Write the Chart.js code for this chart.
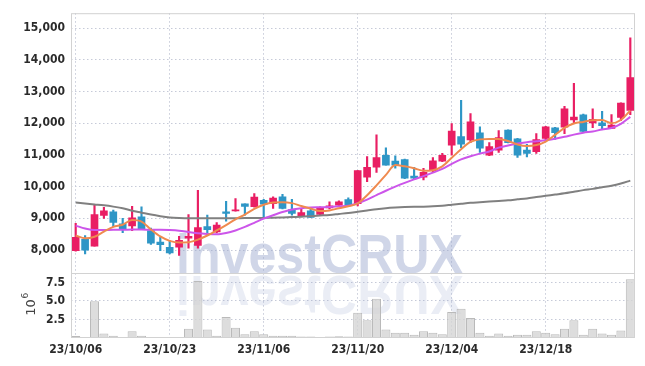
<!DOCTYPE html>
<html lang="ko">
<head>
<meta charset="UTF-8">
<title>Price chart</title>
<script src="https://cdn.jsdelivr.net/npm/chart.js"></script>
<style>
  html, body { margin: 0; padding: 0; background: #fff; }
  #wrap { width: 645px; height: 366px; position: relative; }
</style>
</head>
<body>
<div id="wrap"><canvas id="chart"></canvas></div>
<script>
const dates = [
  '23/10/06','23/10/10','23/10/11','23/10/12','23/10/13','23/10/16','23/10/17','23/10/18','23/10/19','23/10/20',
  '23/10/23','23/10/24','23/10/25','23/10/26','23/10/27','23/10/30','23/10/31','23/11/01','23/11/02','23/11/03',
  '23/11/06','23/11/07','23/11/08','23/11/09','23/11/10','23/11/13','23/11/14','23/11/15','23/11/16','23/11/17',
  '23/11/20','23/11/21','23/11/22','23/11/23','23/11/24','23/11/27','23/11/28','23/11/29','23/11/30','23/12/01',
  '23/12/04','23/12/05','23/12/06','23/12/07','23/12/08','23/12/11','23/12/12','23/12/13','23/12/14','23/12/15',
  '23/12/18','23/12/19','23/12/20','23/12/21','23/12/22','23/12/26','23/12/27','23/12/28','24/01/02','24/01/03'
];
const open = [
  7980, 8340, 8125, 9090, 9205, 8830, 8760, 9050, 8615, 8250,
  8085, 8095, 8375, 8150, 8740, 8570, 9205, 9235, 9455, 9365,
  9570, 9465, 9675, 9280, 9080, 9235, 9125, 9330, 9415, 9590,
  9465, 10295, 10610, 10990, 10805, 10850, 10330, 10295, 10505, 10805,
  11305, 11575, 11470, 11700, 10995, 11150, 11780, 11510, 11150, 11105,
  11520, 11855, 11875, 12100, 12260, 12010, 12010, 11835, 12185, 12405
];
const high = [
  8840, 8460, 9440, 9350, 9260, 9000, 9380, 9360, 8690, 8400,
  8290, 8430, 9120, 9880, 9100, 8870, 9540, 9620, 9460, 9780,
  9600, 9675, 9760, 9600, 9290, 9350, 9360, 9520, 9550, 9645,
  10510, 10950, 11630, 11220, 10970, 10870, 10610, 10580, 10920, 11050,
  11990, 12720, 12300, 11885, 11390, 11770, 11790, 11520, 11335, 11670,
  11900, 11870, 12530, 13255, 12290, 12455, 12375, 12270, 12640, 14690
];
const low = [
  7970, 7880, 8120, 9000, 8740, 8550, 8610, 8640, 8180, 7980,
  7880, 7830, 8060, 8060, 8460, 8540, 8915, 9230, 9100, 9350,
  9040, 9310, 9300, 9100, 9080, 9030, 9120, 9300, 9380, 9400,
  9390, 10160, 10450, 10680, 10580, 10250, 10250, 10210, 10450, 10790,
  10990, 11230, 11390, 11075, 10980, 11075, 11380, 10920, 10940, 11045,
  11440, 11490, 11670, 12010, 11730, 11855, 11800, 11830, 12080, 12270
];
const close = [
  8400, 8000, 9120, 9240, 8875, 8640, 9020, 8670, 8220, 8170,
  7910, 8310, 8430, 8710, 8640, 8790, 9155, 9265, 9375, 9670,
  9445, 9640, 9310, 9155, 9185, 9030, 9330, 9395, 9520, 9415,
  10505, 10610, 10920, 10680, 10680, 10265, 10265, 10450, 10815, 10990,
  11750, 11335, 12040, 11210, 11260, 11545, 11390, 10990, 11045, 11480,
  11885, 11700, 12455, 12195, 11740, 12125, 11925, 11940, 12635, 13435
];
const ma5 = [
  8460, 8370, 8420, 8580, 8730, 8800, 8950, 8900, 8650, 8430,
  8290, 8240, 8250, 8330, 8460, 8620, 8790, 8970, 9120, 9300,
  9430, 9500, 9510, 9480, 9390, 9310, 9230, 9250, 9320, 9380,
  9470, 9730, 10040, 10370, 10680, 10640, 10580, 10500, 10520, 10640,
  10910, 11180, 11410, 11490, 11500, 11500, 11440, 11330, 11280, 11310,
  11420, 11630, 11850, 11990, 12040, 12090, 12100, 12000, 12100, 12400
];
const ma20 = [
  8770, 8680, 8630, 8630, 8640, 8640, 8650, 8650, 8640, 8640,
  8630, 8610, 8570, 8530, 8510, 8500, 8540, 8620, 8730, 8860,
  8990, 9100, 9200, 9280, 9320, 9340, 9350, 9360, 9380, 9400,
  9480, 9590, 9730, 9870, 10000, 10120, 10230, 10330, 10440, 10560,
  10720, 10860, 10960, 11040, 11110, 11230, 11300, 11360, 11400, 11430,
  11460, 11510, 11570, 11640, 11700, 11740, 11800, 11850, 11980, 12200
];
const ma60 = [
  9500, 9470, 9440, 9410, 9370, 9320, 9240, 9180, 9120, 9070,
  9030, 9010, 9000, 9000, 9000, 9000, 9005, 9005, 9010, 9010,
  9015, 9020, 9030, 9040, 9050, 9070, 9090, 9110, 9140, 9170,
  9210, 9250, 9290, 9320, 9340, 9355, 9365, 9370, 9380, 9400,
  9430, 9460, 9490, 9510, 9530, 9550, 9570, 9600, 9630, 9670,
  9710, 9750, 9790, 9840, 9890, 9930, 9980, 10030, 10100, 10190
];
// volume in millions of shares
const volume = [
  0.27, 0.1, 4.95, 0.6, 0.3, 0.1, 0.9, 0.3, 0.12, 0.1,
  0.1, 0.1, 1.25, 7.7, 1.15, 0.3, 2.85, 1.4, 0.5, 0.9,
  0.5, 0.3, 0.3, 0.3, 0.2, 0.2, 0.15, 0.2, 0.25, 0.2,
  3.4, 2.4, 5.3, 1.15, 0.7, 0.7, 0.45, 0.9, 0.7, 0.5,
  3.5, 3.95, 2.7, 0.7, 0.3, 0.6, 0.3, 0.45, 0.45, 0.9,
  0.7, 0.5, 1.25, 2.4, 0.45, 1.25, 0.6, 0.45, 1.0, 7.95
];
const priceTicks = [8000, 9000, 10000, 11000, 12000, 13000, 14000, 15000];
const volumeTicks = [2.5, 5.0, 7.5];

const UP = '#e91e63';
const DOWN = '#2e96c6';
const candleColors = open.map((o, i) => close[i] >= o ? UP : DOWN);

// pick a narrow face if one is installed
function hasFont(name) {
  const c = document.createElement('canvas').getContext('2d');
  c.font = '40px monospace';
  const base = c.measureText('15,000 abc').width;
  c.font = `40px '${name}', monospace`;
  return c.measureText('15,000 abc').width !== base;
}
let tickFont = { family: "'DejaVu Sans Condensed', 'DejaVu Sans', sans-serif", size: 12, weight: 'bold' };
if (hasFont('Liberation Sans Narrow')) {
  tickFont = { family: "'Liberation Sans Narrow', sans-serif", size: 15, weight: 'bold' };
} else if (hasFont('Noto Sans Condensed')) {
  tickFont = { family: "'Noto Sans Condensed', sans-serif", size: 14, weight: '600' };
}
const gridDotted = '#c6cad8';

const frame = {
  id: 'frame',
  beforeDatasetsDraw(chart) {
    const { ctx, chartArea: a } = chart;
    const yb = chart.scales.y.bottom;
    ctx.save();
    ctx.beginPath();
    ctx.rect(a.left, a.top, a.width, a.height);
    ctx.clip();
    ctx.font = "bold 56px 'Liberation Sans', Arial, sans-serif";
    const text = 'investCRUX';
    const w = ctx.measureText(text).width;
    ctx.translate(176, yb);
    ctx.scale(287 / w, 1);
    ctx.fillStyle = 'rgba(150,163,205,0.45)';
    ctx.fillText(text, 0, 0);
    ctx.scale(1, -1);
    ctx.fillStyle = 'rgba(150,163,205,0.2)';
    ctx.fillText(text, 0, -3);
    ctx.restore();
  },
  afterDraw(chart) {
    const { ctx, chartArea: a } = chart;
    const yb = chart.scales.y.bottom;
    ctx.save();
    ctx.strokeStyle = '#d2d2d2';
    ctx.lineWidth = 1;
    ctx.strokeRect(a.left + 0.5, a.top + 0.5, a.width - 1, a.height - 1);
    ctx.beginPath();
    ctx.moveTo(a.left, Math.round(yb) + 0.5);
    ctx.lineTo(a.right, Math.round(yb) + 0.5);
    ctx.stroke();
    // exponent label of the volume axis
    const vy = (chart.scales.yv.top + chart.scales.yv.bottom) / 2 + 2;
    ctx.translate(35, vy);
    ctx.rotate(-Math.PI / 2);
    ctx.fillStyle = '#444';
    ctx.font = "13px 'DejaVu Sans', sans-serif";
    ctx.textBaseline = 'alphabetic';
    ctx.textAlign = 'center';
    ctx.fillText('10', 0, 0);
    ctx.font = "9px 'DejaVu Sans', sans-serif";
    ctx.textAlign = 'left';
    ctx.fillText('6', 9, -7);
    ctx.restore();
  }
};

new Chart(document.getElementById('chart'), {
  type: 'bar',
  data: {
    labels: dates,
    datasets: [
      { type: 'line', data: ma5, yAxisID: 'y', borderColor: '#ef8a4f', borderWidth: 2, pointRadius: 0, cubicInterpolationMode: 'monotone', order: 0 },
      { type: 'line', data: ma20, yAxisID: 'y', borderColor: '#cc55ea', borderWidth: 2, pointRadius: 0, cubicInterpolationMode: 'monotone', order: 0 },
      { type: 'line', data: ma60, yAxisID: 'y', borderColor: '#808080', borderWidth: 2, pointRadius: 0, cubicInterpolationMode: 'monotone', order: 0 },
      { data: open.map((o, i) => [o, close[i]]), yAxisID: 'y', backgroundColor: candleColors, barThickness: 7, minBarLength: 1, grouped: false, order: 1 },
      { data: low.map((l, i) => [l, high[i]]), yAxisID: 'y', backgroundColor: candleColors, barThickness: 1.5, grouped: false, order: 2 },
      { data: volume, yAxisID: 'yv', backgroundColor: 'rgba(212,212,212,0.8)', borderColor: '#bababa', borderWidth: 1, barPercentage: 1, categoryPercentage: 0.96, grouped: false, order: 3 }
    ]
  },
  options: {
    responsive: true,
    maintainAspectRatio: false,
    animation: false,
    layout: { padding: { top: 9, right: 10, left: 0, bottom: 0 } },
    plugins: { legend: { display: false }, tooltip: { enabled: false } },
    scales: {
      x: {
        offset: true,
        grid: { offset: false, drawTicks: false, color: (c) => c.index % 10 === 0 ? gridDotted : 'rgba(0,0,0,0)' },
        border: { display: false, dash: [1.5, 2.5] },
        ticks: {
          autoSkip: false, maxRotation: 0, minRotation: 0, padding: 5,
          color: '#2a2a2a', font: tickFont,
          callback: (v, i) => i % 10 === 0 ? dates[i] : ''
        },
        afterFit: (s) => { s.height = 28; }
      },
      // the volume panel is declared first so that it is stacked below the price panel
      yv: {
        position: 'left', stack: 'panels', stackWeight: 66,
        min: 0, max: 8.8,
        afterBuildTicks: (s) => { s.ticks = volumeTicks.map(v => ({ value: v })); },
        grid: { drawTicks: false, color: gridDotted },
        border: { display: false, dash: [1.5, 2.5] },
        ticks: { autoSkip: false, padding: 6, color: '#2a2a2a', font: tickFont, callback: (v) => v.toFixed(1) },
        afterFit: (s) => { s.width = 71; }
      },
      y: {
        position: 'left', stack: 'panels', stackWeight: 263,
        min: 7283, max: 15467,
        afterBuildTicks: (s) => { s.ticks = priceTicks.map(v => ({ value: v })); },
        grid: { drawTicks: false, color: gridDotted },
        border: { display: false, dash: [1.5, 2.5] },
        ticks: { autoSkip: false, padding: 6, color: '#2a2a2a', font: tickFont, callback: (v) => v.toLocaleString('en-US') },
        afterFit: (s) => { s.width = 71; }
      }
    }
  },
  plugins: [frame]
});
</script>
</body>
</html>
